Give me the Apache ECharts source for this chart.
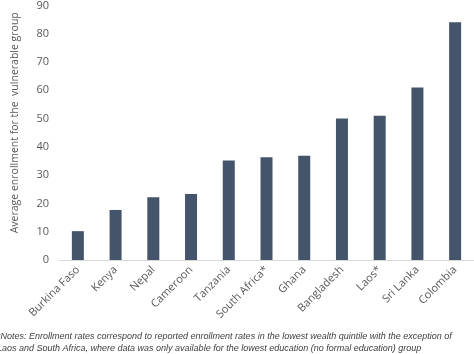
<!DOCTYPE html>
<html>
<head>
<meta charset="utf-8">
<script src="https://cdn.jsdelivr.net/npm/echarts@6/dist/echarts.min.js"></script>
<style>
  html, body { margin: 0; padding: 0; background: #fff; }
  #chart { width: 474px; height: 354px; }
</style>
</head>
<body>
<div id="chart"></div>
<script>
// countries, lowest quintile first
const countries = ['Burkina Faso', 'Kenya', 'Nepal', 'Cameroon', 'Tanzania', 'South Africa*',
  'Ghana', 'Bangladesh', 'Laos*', 'Sri Lanka', 'Colombia'];
const enrollment = [10.2, 17.7, 22.2, 23.3, 35.2, 36.3, 36.9, 50.0, 51.0, 61.0, 84.1];

const yTitle = 'Average enrollment for the  vulnerable group';
const notes = [
  '*Notes: Enrollment rates correspond to reported enrollment rates in the lowest wealth quintile with the exception of',
  'Laos and South Africa, where data was only available for the lowest education (no formal education) group'
];

const chart = echarts.init(document.getElementById('chart'));

const option = {
  animation: false,
  textStyle: { fontFamily: 'Open Sans' },
  grid: { left: 59, right: 0, top: 4.5, bottom: 94 },
  xAxis: {
    type: 'category',
    data: countries,
    axisLine: { lineStyle: { color: '#d9d9d9' } },
    axisTick: { show: false },
    axisLabel: { rotate: 45, color: '#595959', fontSize: 11, interval: 0, margin: 8 }
  },
  yAxis: {
    type: 'value',
    min: 0,
    max: 90,
    interval: 10,
    name: yTitle,
    nameLocation: 'middle',
    nameGap: 38,
    nameTextStyle: { color: '#595959', fontSize: 10.5, padding: [0, 0, 0, 20] },
    axisLine: { show: false },
    axisTick: { show: false },
    splitLine: { show: false },
    axisLabel: { color: '#595959', fontSize: 11, margin: 10 }
  },
  series: [{
    type: 'bar',
    data: enrollment,
    barWidth: 12,
    itemStyle: { color: '#44546a' }
  }],
  graphic: notes.map((line, i) => ({
    type: 'text',
    left: -3,
    top: 332 + i * 12,
    style: {
      text: line,
      font: 'italic 9px "Liberation Sans"',
      fill: '#404040'
    }
  }))
};

chart.setOption(option);
</script>
</body>
</html>
